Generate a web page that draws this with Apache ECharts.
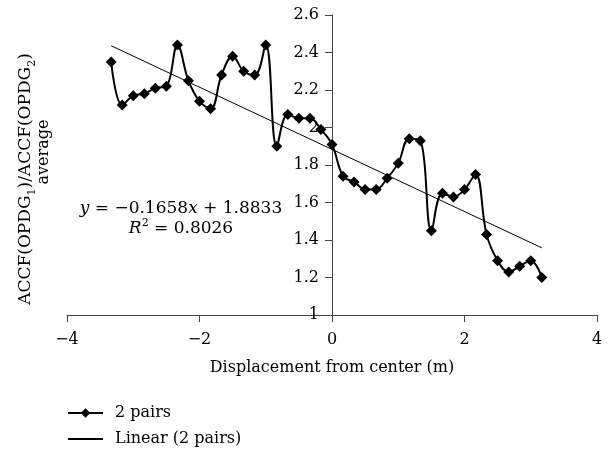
<!DOCTYPE html>
<html>
	<head>
		<meta charset="utf-8">
		<title>ACCF ratio vs displacement</title>
		<style>
			html, body {
				width: 100%;
				height: 100%;
				margin: 0;
				padding: 0;
				background: #fff;
			}
			#main {
				width: 608px;
				height: 453px;
			}
		</style>
	</head>
	<body>
		<div id="main"></div>
		<script src="https://cdn.jsdelivr.net/npm/echarts@6/dist/echarts.min.js"></script>
		<script>
			// displacement (m) and ratio values
			var xs = [-3.333, -3.167, -3.000, -2.833, -2.667, -2.500, -2.333, -2.167, -2.000, -1.833,
				-1.667, -1.500, -1.333, -1.167, -1.000, -0.833, -0.667, -0.500, -0.333, -0.167,
				0, 0.167, 0.333, 0.500, 0.667, 0.833, 1.000, 1.167, 1.333, 1.500,
				1.667, 1.833, 2.000, 2.167, 2.333, 2.500, 2.667, 2.833, 3.000, 3.167];
			var pairs2 = [2.35, 2.12, 2.17, 2.18, 2.21, 2.22, 2.44, 2.25, 2.14, 2.10,
				2.28, 2.38, 2.30, 2.28, 2.44, 1.90, 2.07, 2.05, 2.05, 1.99,
				1.91, 1.74, 1.71, 1.67, 1.67, 1.73, 1.81, 1.94, 1.93, 1.45,
				1.65, 1.63, 1.67, 1.75, 1.43, 1.29, 1.23, 1.26, 1.29, 1.20];
			var trendCoef = [-0.1658, 1.8833]; // slope, intercept
			var trendX = [-3.333, 3.167];
			var xTicks = [-4, -2, 0, 2, 4];
			var seriesNames = ['2 pairs', 'Linear (2 pairs)'];

			var font = 'DejaVu Serif';
			var ink = '#000';
			var axisColor = '#444';

			var lineData = [];
			for (var i = 0; i < xs.length; i++) {
				lineData.push([xs[i], pairs2[i]]);
			}
			var trendData = [];
			for (var j = 0; j < trendX.length; j++) {
				trendData.push([trendX[j], trendCoef[0] * trendX[j] + trendCoef[1]]);
			}

			var chart = echarts.init(document.getElementById('main'), null, {renderer: 'canvas'});
			chart.setOption({
				animation: false,
				backgroundColor: '#fff',
				textStyle: {fontFamily: font, color: ink},
				grid: {
					left: 67,
					right: 11,
					top: 15,
					bottom: 138,
					outerBoundsMode: 'none'
				},
				xAxis: {
					type: 'value',
					min: xTicks[0],
					max: xTicks[xTicks.length - 1],
					interval: 2,
					name: 'Displacement from center (m)',
					nameLocation: 'middle',
					nameGap: 45,
					nameTextStyle: {fontFamily: font, fontSize: 16, color: ink},
					splitLine: {show: false},
					axisLine: {onZero: false, lineStyle: {color: axisColor, width: 1}},
					axisTick: {length: 7, lineStyle: {color: axisColor}},
					axisLabel: {
						fontFamily: font,
						fontSize: 16,
						color: ink,
						margin: 17,
						formatter: function(v) {
							return v < 0 ? '\u2212' + (-v) : '' + v;
						}
					}
				},
				yAxis: {
					type: 'value',
					min: 1,
					max: 2.6,
					interval: 0.2,
					position: 'left',
					offset: -265, // sits at x = 0
					splitLine: {show: false},
					axisLine: {show: true, onZero: false, lineStyle: {color: axisColor, width: 1}},
					axisTick: {show: true, length: 7, lineStyle: {color: axisColor}},
					axisLabel: {
						fontFamily: font,
						fontSize: 16,
						color: ink,
						margin: 13,
						formatter: function(v) {
							return '' + Math.round(v * 10) / 10;
						}
					}
				},
				legend: {
					orient: 'vertical',
					left: 67,
					top: 403,
					padding: 0,
					itemWidth: 35,
					itemHeight: 12,
					itemGap: 6,
					textStyle: {fontFamily: font, fontSize: 16, color: ink, lineHeight: 20, padding: [0, 0, 0, 7]},
					data: [
						{name: seriesNames[0]},
						{name: seriesNames[1], itemStyle: {opacity: 0}}
					]
				},
				series: [
					{
						name: seriesNames[0],
						type: 'line',
						data: lineData,
						smooth: 0.4,
						symbol: 'diamond',
						symbolSize: 11,
						itemStyle: {color: ink},
						lineStyle: {color: ink, width: 2}
					},
					{
						name: seriesNames[1],
						type: 'line',
						data: trendData,
						symbol: 'none',
						itemStyle: {color: ink},
						lineStyle: {color: ink, width: 1}
					}
				],
				graphic: [
					{
						type: 'text',
						x: 26,
						y: 179,
						rotation: Math.PI / 2,
						style: {
							text: 'ACCF(OPDG{sub|1})/ACCF(OPDG{sub|2})',
							fontFamily: font,
							fontSize: 17,
							fill: ink,
							align: 'center',
							verticalAlign: 'middle',
							lineHeight: 24,
							rich: {
								sub: {fontFamily: font, fontSize: 11, fill: ink, verticalAlign: 'bottom', lineHeight: 24}
							}
						}
					},
					{
						type: 'text',
						x: 44,
						y: 152,
						rotation: Math.PI / 2,
						style: {
							text: 'average',
							fontFamily: font,
							fontSize: 16,
							fill: ink,
							align: 'center',
							verticalAlign: 'middle'
						}
					},
					{
						type: 'text',
						x: 181,
						y: 209,
						style: {
							text: '{i|y} = \u22120.1658{i|x} + 1.8833',
							fontFamily: font,
							fontSize: 17,
							fill: ink,
							align: 'center',
							verticalAlign: 'middle',
							rich: {
								i: {fontFamily: font, fontSize: 17, fontStyle: 'italic', fill: ink}
							}
						}
					},
					{
						type: 'text',
						x: 181,
						y: 229,
						style: {
							text: '{i|R}{sup|2} = 0.8026',
							fontFamily: font,
							fontSize: 17,
							fill: ink,
							align: 'center',
							verticalAlign: 'middle',
							lineHeight: 22,
							rich: {
								i: {fontFamily: font, fontSize: 17, fontStyle: 'italic', fill: ink, lineHeight: 22},
								sup: {fontFamily: font, fontSize: 11, fill: ink, verticalAlign: 'top', lineHeight: 22}
							}
						}
					}
				]
			});
		</script>
	</body>
</html>
